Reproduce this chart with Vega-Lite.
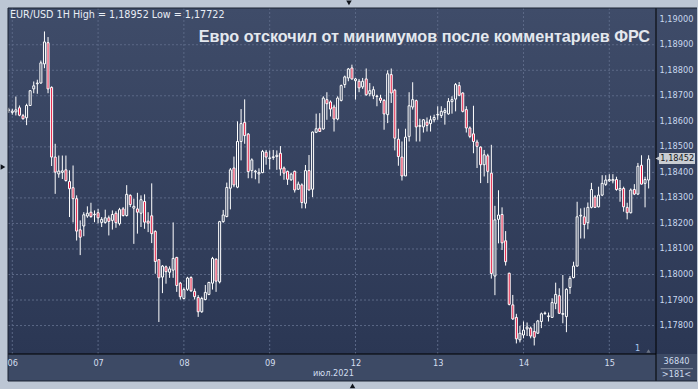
{
"$schema": "https://vega.github.io/schema/vega-lite/v6.json",
"width": 648, "height": 346,
"autosize": {"type": "none"},
"padding": {"left": 8, "top": 8, "right": 42, "bottom": 35},
"background": "#bcc6d4",
"config": {"view": {"stroke": null}, "font": "DejaVu Sans", "scale": {"continuousPadding": 0}, "axis": {"zindex": 1, "grid": false, "title": null, "labelOverlap": false}},
"datasets": {
"candles": [
{"t":0,"o":1.18643,"h":1.18653,"l":1.18633,"c":1.18645},
{"t":1,"o":1.18635,"h":1.18649,"l":1.18626,"c":1.18640},
{"t":2,"o":1.18637,"h":1.18697,"l":1.18623,"c":1.18645},
{"t":3,"o":1.18653,"h":1.18662,"l":1.18620,"c":1.18624},
{"t":4,"o":1.18622,"h":1.18629,"l":1.18607,"c":1.18610},
{"t":5,"o":1.18614,"h":1.18669,"l":1.18585,"c":1.18662},
{"t":6,"o":1.18662,"h":1.18721,"l":1.18661,"c":1.18720},
{"t":7,"o":1.18727,"h":1.18756,"l":1.18710,"c":1.18739},
{"t":8,"o":1.18747,"h":1.18763,"l":1.18708,"c":1.18750},
{"t":9,"o":1.18750,"h":1.18838,"l":1.18747,"c":1.18829},
{"t":10,"o":1.18825,"h":1.18952,"l":1.18808,"c":1.18911},
{"t":11,"o":1.18908,"h":1.18930,"l":1.18710,"c":1.18727},
{"t":12,"o":1.18733,"h":1.18737,"l":1.18425,"c":1.18460},
{"t":13,"o":1.18460,"h":1.18512,"l":1.18316,"c":1.18401},
{"t":14,"o":1.18394,"h":1.18466,"l":1.18379,"c":1.18405},
{"t":15,"o":1.18400,"h":1.18466,"l":1.18374,"c":1.18406},
{"t":16,"o":1.18410,"h":1.18466,"l":1.18364,"c":1.18368},
{"t":17,"o":1.18364,"h":1.18408,"l":1.18225,"c":1.18336},
{"t":18,"o":1.18340,"h":1.18427,"l":1.18204,"c":1.18297},
{"t":19,"o":1.18297,"h":1.18310,"l":1.18133,"c":1.18170},
{"t":20,"o":1.18175,"h":1.18212,"l":1.18076,"c":1.18146},
{"t":21,"o":1.18190,"h":1.18244,"l":1.18150,"c":1.18234},
{"t":22,"o":1.18229,"h":1.18267,"l":1.18222,"c":1.18240},
{"t":23,"o":1.18244,"h":1.18281,"l":1.18222,"c":1.18227},
{"t":24,"o":1.18234,"h":1.18251,"l":1.18205,"c":1.18236},
{"t":25,"o":1.18242,"h":1.18257,"l":1.18200,"c":1.18222},
{"t":26,"o":1.18204,"h":1.18225,"l":1.18186,"c":1.18216},
{"t":27,"o":1.18204,"h":1.18254,"l":1.18199,"c":1.18222},
{"t":28,"o":1.18222,"h":1.18231,"l":1.18153,"c":1.18208},
{"t":29,"o":1.18212,"h":1.18251,"l":1.18176,"c":1.18235},
{"t":30,"o":1.18240,"h":1.18248,"l":1.18183,"c":1.18203},
{"t":31,"o":1.18199,"h":1.18261,"l":1.18192,"c":1.18254},
{"t":32,"o":1.18257,"h":1.18264,"l":1.18227,"c":1.18231},
{"t":33,"o":1.18231,"h":1.18350,"l":1.18227,"c":1.18314},
{"t":34,"o":1.18310,"h":1.18314,"l":1.18264,"c":1.18274},
{"t":35,"o":1.18260,"h":1.18297,"l":1.18120,"c":1.18267},
{"t":36,"o":1.18257,"h":1.18320,"l":1.18160,"c":1.18244},
{"t":37,"o":1.18240,"h":1.18310,"l":1.18186,"c":1.18293},
{"t":38,"o":1.18286,"h":1.18314,"l":1.18179,"c":1.18205},
{"t":39,"o":1.18209,"h":1.18244,"l":1.18166,"c":1.18201},
{"t":40,"o":1.18230,"h":1.18357,"l":1.18123,"c":1.18160},
{"t":41,"o":1.18169,"h":1.18173,"l":1.18003,"c":1.18051},
{"t":42,"o":1.18058,"h":1.18060,"l":1.17814,"c":1.17987},
{"t":43,"o":1.17990,"h":1.18037,"l":1.17927,"c":1.18033},
{"t":44,"o":1.18030,"h":1.18035,"l":1.17964,"c":1.18011},
{"t":45,"o":1.18009,"h":1.18032,"l":1.17987,"c":1.18022},
{"t":46,"o":1.18017,"h":1.18204,"l":1.17987,"c":1.18063},
{"t":47,"o":1.18067,"h":1.18069,"l":1.17932,"c":1.17957},
{"t":48,"o":1.17966,"h":1.17971,"l":1.17902,"c":1.17913},
{"t":49,"o":1.17906,"h":1.17949,"l":1.17902,"c":1.17941},
{"t":50,"o":1.17942,"h":1.17991,"l":1.17936,"c":1.17986},
{"t":51,"o":1.17988,"h":1.17993,"l":1.17932,"c":1.17936},
{"t":52,"o":1.17934,"h":1.17945,"l":1.17902,"c":1.17913},
{"t":53,"o":1.17910,"h":1.17919,"l":1.17834,"c":1.17854},
{"t":54,"o":1.17854,"h":1.17913,"l":1.17850,"c":1.17906},
{"t":55,"o":1.17902,"h":1.17959,"l":1.17899,"c":1.17930},
{"t":56,"o":1.17922,"h":1.17971,"l":1.17919,"c":1.17969},
{"t":57,"o":1.17966,"h":1.18069,"l":1.17941,"c":1.18063},
{"t":58,"o":1.18060,"h":1.18063,"l":1.17932,"c":1.17974},
{"t":59,"o":1.17971,"h":1.18210,"l":1.17965,"c":1.18207},
{"t":60,"o":1.18207,"h":1.18253,"l":1.18203,"c":1.18233},
{"t":61,"o":1.18227,"h":1.18360,"l":1.18224,"c":1.18341},
{"t":62,"o":1.18338,"h":1.18417,"l":1.18255,"c":1.18410},
{"t":63,"o":1.18417,"h":1.18462,"l":1.18342,"c":1.18351},
{"t":64,"o":1.18342,"h":1.18600,"l":1.18338,"c":1.18521},
{"t":65,"o":1.18521,"h":1.18648,"l":1.18447,"c":1.18591},
{"t":66,"o":1.18596,"h":1.18686,"l":1.18512,"c":1.18544},
{"t":67,"o":1.18550,"h":1.18554,"l":1.18377,"c":1.18403},
{"t":68,"o":1.18407,"h":1.18455,"l":1.18377,"c":1.18449},
{"t":69,"o":1.18402,"h":1.18410,"l":1.18373,"c":1.18405},
{"t":70,"o":1.18394,"h":1.18416,"l":1.18357,"c":1.18399},
{"t":71,"o":1.18399,"h":1.18488,"l":1.18397,"c":1.18482},
{"t":72,"o":1.18479,"h":1.18488,"l":1.18430,"c":1.18460},
{"t":73,"o":1.18454,"h":1.18486,"l":1.18412,"c":1.18457},
{"t":74,"o":1.18458,"h":1.18488,"l":1.18449,"c":1.18461},
{"t":75,"o":1.18462,"h":1.18486,"l":1.18410,"c":1.18467},
{"t":76,"o":1.18475,"h":1.18503,"l":1.18387,"c":1.18413},
{"t":77,"o":1.18417,"h":1.18423,"l":1.18371,"c":1.18397},
{"t":78,"o":1.18404,"h":1.18407,"l":1.18351,"c":1.18373},
{"t":79,"o":1.18371,"h":1.18399,"l":1.18367,"c":1.18393},
{"t":80,"o":1.18404,"h":1.18407,"l":1.18321,"c":1.18331},
{"t":81,"o":1.18334,"h":1.18364,"l":1.18331,"c":1.18354},
{"t":82,"o":1.18351,"h":1.18357,"l":1.18259,"c":1.18282},
{"t":83,"o":1.18279,"h":1.18429,"l":1.18259,"c":1.18407},
{"t":84,"o":1.18407,"h":1.18468,"l":1.18329,"c":1.18331},
{"t":85,"o":1.18334,"h":1.18560,"l":1.18303,"c":1.18558},
{"t":86,"o":1.18557,"h":1.18630,"l":1.18554,"c":1.18571},
{"t":87,"o":1.18573,"h":1.18632,"l":1.18560,"c":1.18560},
{"t":88,"o":1.18570,"h":1.18698,"l":1.18567,"c":1.18691},
{"t":89,"o":1.18685,"h":1.18714,"l":1.18606,"c":1.18669},
{"t":90,"o":1.18676,"h":1.18682,"l":1.18619,"c":1.18648},
{"t":91,"o":1.18656,"h":1.18665,"l":1.18560,"c":1.18609},
{"t":92,"o":1.18609,"h":1.18698,"l":1.18604,"c":1.18691},
{"t":93,"o":1.18682,"h":1.18744,"l":1.18678,"c":1.18740},
{"t":94,"o":1.18744,"h":1.18779,"l":1.18731,"c":1.18774},
{"t":95,"o":1.18770,"h":1.18809,"l":1.18757,"c":1.18805},
{"t":96,"o":1.18809,"h":1.18822,"l":1.18763,"c":1.18766},
{"t":97,"o":1.18759,"h":1.18770,"l":1.18685,"c":1.18766},
{"t":98,"o":1.18757,"h":1.18766,"l":1.18714,"c":1.18731},
{"t":99,"o":1.18735,"h":1.18770,"l":1.18727,"c":1.18757},
{"t":100,"o":1.18766,"h":1.18807,"l":1.18700,"c":1.18704},
{"t":101,"o":1.18708,"h":1.18750,"l":1.18698,"c":1.18720},
{"t":102,"o":1.18700,"h":1.18737,"l":1.18687,"c":1.18724},
{"t":103,"o":1.18697,"h":1.18704,"l":1.18659,"c":1.18699},
{"t":104,"o":1.18691,"h":1.18704,"l":1.18672,"c":1.18682},
{"t":105,"o":1.18682,"h":1.18687,"l":1.18567,"c":1.18629},
{"t":106,"o":1.18626,"h":1.18800,"l":1.18593,"c":1.18786},
{"t":107,"o":1.18783,"h":1.18807,"l":1.18672,"c":1.18711},
{"t":108,"o":1.18722,"h":1.18727,"l":1.18486,"c":1.18534},
{"t":109,"o":1.18530,"h":1.18571,"l":1.18426,"c":1.18462},
{"t":110,"o":1.18460,"h":1.18521,"l":1.18368,"c":1.18386},
{"t":111,"o":1.18386,"h":1.18571,"l":1.18386,"c":1.18538},
{"t":112,"o":1.18541,"h":1.18714,"l":1.18521,"c":1.18661},
{"t":113,"o":1.18656,"h":1.18753,"l":1.18646,"c":1.18685},
{"t":114,"o":1.18681,"h":1.18685,"l":1.18521,"c":1.18578},
{"t":115,"o":1.18580,"h":1.18610,"l":1.18521,"c":1.18584},
{"t":116,"o":1.18578,"h":1.18609,"l":1.18556,"c":1.18606},
{"t":117,"o":1.18597,"h":1.18615,"l":1.18560,"c":1.18584},
{"t":118,"o":1.18591,"h":1.18622,"l":1.18560,"c":1.18606},
{"t":119,"o":1.18606,"h":1.18626,"l":1.18596,"c":1.18615},
{"t":120,"o":1.18625,"h":1.18659,"l":1.18606,"c":1.18627},
{"t":121,"o":1.18623,"h":1.18659,"l":1.18613,"c":1.18639},
{"t":122,"o":1.18635,"h":1.18652,"l":1.18587,"c":1.18642},
{"t":123,"o":1.18629,"h":1.18691,"l":1.18626,"c":1.18678},
{"t":124,"o":1.18677,"h":1.18698,"l":1.18630,"c":1.18685},
{"t":125,"o":1.18687,"h":1.18750,"l":1.18639,"c":1.18744},
{"t":126,"o":1.18740,"h":1.18754,"l":1.18698,"c":1.18702},
{"t":127,"o":1.18711,"h":1.18714,"l":1.18635,"c":1.18639},
{"t":128,"o":1.18646,"h":1.18659,"l":1.18556,"c":1.18574},
{"t":129,"o":1.18574,"h":1.18580,"l":1.18534,"c":1.18541},
{"t":130,"o":1.18551,"h":1.18661,"l":1.18475,"c":1.18521},
{"t":131,"o":1.18519,"h":1.18528,"l":1.18417,"c":1.18502},
{"t":132,"o":1.18499,"h":1.18502,"l":1.18358,"c":1.18430},
{"t":133,"o":1.18430,"h":1.18488,"l":1.18384,"c":1.18469},
{"t":134,"o":1.18465,"h":1.18473,"l":1.18358,"c":1.18404},
{"t":135,"o":1.18397,"h":1.18508,"l":1.17984,"c":1.18004},
{"t":136,"o":1.17994,"h":1.18269,"l":1.17919,"c":1.18214},
{"t":137,"o":1.18216,"h":1.18330,"l":1.18122,"c":1.18233},
{"t":138,"o":1.18235,"h":1.18263,"l":1.18096,"c":1.18124},
{"t":139,"o":1.18132,"h":1.18170,"l":1.18035,"c":1.18050},
{"t":140,"o":1.18005,"h":1.18007,"l":1.17879,"c":1.17883},
{"t":141,"o":1.17881,"h":1.17920,"l":1.17822,"c":1.17826},
{"t":142,"o":1.17832,"h":1.17846,"l":1.17730,"c":1.17748},
{"t":143,"o":1.17744,"h":1.17799,"l":1.17734,"c":1.17770},
{"t":144,"o":1.17763,"h":1.17816,"l":1.17750,"c":1.17782},
{"t":145,"o":1.17787,"h":1.17812,"l":1.17759,"c":1.17794},
{"t":146,"o":1.17790,"h":1.17796,"l":1.17750,"c":1.17759},
{"t":147,"o":1.17777,"h":1.17809,"l":1.17722,"c":1.17754},
{"t":148,"o":1.17770,"h":1.17822,"l":1.17767,"c":1.17818},
{"t":149,"o":1.17816,"h":1.17851,"l":1.17790,"c":1.17846},
{"t":150,"o":1.17847,"h":1.17855,"l":1.17842,"c":1.17849},
{"t":151,"o":1.17835,"h":1.17851,"l":1.17816,"c":1.17838},
{"t":152,"o":1.17832,"h":1.17907,"l":1.17831,"c":1.17890},
{"t":153,"o":1.17887,"h":1.17968,"l":1.17864,"c":1.17922},
{"t":154,"o":1.17917,"h":1.17946,"l":1.17846,"c":1.17848},
{"t":155,"o":1.17844,"h":1.17998,"l":1.17809,"c":1.17847},
{"t":156,"o":1.17835,"h":1.17946,"l":1.17774,"c":1.17942},
{"t":157,"o":1.17949,"h":1.17994,"l":1.17924,"c":1.17985},
{"t":158,"o":1.17988,"h":1.18050,"l":1.17985,"c":1.18033},
{"t":159,"o":1.18033,"h":1.18285,"l":1.18031,"c":1.18226},
{"t":160,"o":1.18229,"h":1.18259,"l":1.18141,"c":1.18232},
{"t":161,"o":1.18226,"h":1.18262,"l":1.18141,"c":1.18196},
{"t":162,"o":1.18203,"h":1.18282,"l":1.18177,"c":1.18263},
{"t":163,"o":1.18263,"h":1.18359,"l":1.18259,"c":1.18333},
{"t":164,"o":1.18304,"h":1.18311,"l":1.18262,"c":1.18263},
{"t":165,"o":1.18265,"h":1.18344,"l":1.18263,"c":1.18311},
{"t":166,"o":1.18311,"h":1.18389,"l":1.18307,"c":1.18357},
{"t":167,"o":1.18353,"h":1.18389,"l":1.18347,"c":1.18370},
{"t":168,"o":1.18367,"h":1.18393,"l":1.18363,"c":1.18372},
{"t":169,"o":1.18367,"h":1.18393,"l":1.18357,"c":1.18372},
{"t":170,"o":1.18372,"h":1.18383,"l":1.18328,"c":1.18333},
{"t":171,"o":1.18330,"h":1.18370,"l":1.18285,"c":1.18337},
{"t":172,"o":1.18337,"h":1.18344,"l":1.18246,"c":1.18265},
{"t":173,"o":1.18263,"h":1.18281,"l":1.18216,"c":1.18242},
{"t":174,"o":1.18242,"h":1.18337,"l":1.18239,"c":1.18331},
{"t":175,"o":1.18333,"h":1.18354,"l":1.18311,"c":1.18315},
{"t":176,"o":1.18315,"h":1.18437,"l":1.18311,"c":1.18424},
{"t":177,"o":1.18428,"h":1.18467,"l":1.18353,"c":1.18354},
{"t":178,"o":1.18357,"h":1.18383,"l":1.18263,"c":1.18372},
{"t":179,"o":1.18370,"h":1.18467,"l":1.18337,"c":1.18452}
],
"hgrid": [{"v":1.178},{"v":1.179},{"v":1.180},{"v":1.181},{"v":1.182},{"v":1.183},{"v":1.184},{"v":1.185},{"v":1.186},{"v":1.187},{"v":1.188},{"v":1.189}],
"vgrid": [{"d":1},{"d":25},{"d":49},{"d":73},{"d":97},{"d":120},{"d":144},{"d":168}],
"one": [{}]
},
"layer": [
{"data": {"name": "one"},
 "mark": {"type": "rect", "fill": {"gradient": "linear", "x1": 0, "y1": 0, "x2": 0, "y2": 1, "stops": [{"offset": 0, "color": "#3f4c69"}, {"offset": 1, "color": "#2b3754"}]}},
 "encoding": {
  "x": {"datum": -0.2, "type": "quantitative", "scale": {"domain": [-0.2, 181.06], "nice": false, "zero": false}},
  "x2": {"datum": 192.53},
  "y": {"datum": 1.190439, "type": "quantitative", "scale": {"domain": [1.176886, 1.190439], "nice": false, "zero": false}},
  "y2": {"datum": 1.176886}}},
{"data": {"name": "one"},
 "mark": {"type": "rect", "fill": "#3d4a65"},
 "encoding": {
  "x": {"datum": -0.2, "type": "quantitative", "scale": {"domain": [-0.2, 181.06], "nice": false, "zero": false}},
  "x2": {"datum": 192.53},
  "y": {"datum": 1.176886, "type": "quantitative", "scale": {"domain": [1.176886, 1.190439], "nice": false, "zero": false}},
  "y2": {"datum": 1.175829}}},
{"data": {"name": "hgrid"},
 "mark": {"type": "rule", "color": "#5b6886", "strokeWidth": 1, "strokeDash": [2, 2]},
 "encoding": {
  "x": {"datum": -0.2, "type": "quantitative", "scale": {"domain": [-0.2, 181.06], "nice": false, "zero": false}},
  "x2": {"datum": 181.06},
  "y": {"field": "v", "type": "quantitative", "scale": {"domain": [1.176886, 1.190439], "nice": false, "zero": false}}}},
{"data": {"name": "vgrid"},
 "mark": {"type": "rule", "color": "#5b6886", "strokeWidth": 1, "strokeDash": [2, 2]},
 "encoding": {
  "x": {"field": "d", "type": "quantitative", "scale": {"domain": [-0.2, 181.06], "nice": false, "zero": false}},
  "y": {"datum": 1.190439, "type": "quantitative", "scale": {"domain": [1.176886, 1.190439], "nice": false, "zero": false}},
  "y2": {"datum": 1.176886}}},
{"data": {"name": "candles"},
 "mark": {"type": "rule", "color": "#ffffff", "strokeWidth": 1},
 "encoding": {
  "x": {"field": "t", "type": "quantitative", "scale": {"domain": [-0.2, 181.06], "nice": false, "zero": false},
        "axis": {"orient": "bottom", "values": [1, 25, 49, 73, 97, 120, 144, 168], "labelExpr": "datum.value==1?'06':datum.value==25?'07':datum.value==49?'08':datum.value==73?'09':datum.value==97?'12':datum.value==120?'13':datum.value==144?'14':'15'", "title": null, "grid": false, "ticks": false, "domain": false, "labelColor": "#d4deee", "labelFont": "DejaVu Sans", "labelFontSize": 8.2, "labelPadding": 5, "labelFlush": false, "labelOverlap": false, "zindex": 1}},
  "y": {"field": "l", "type": "quantitative", "scale": {"domain": [1.176886, 1.190439], "nice": false, "zero": false},
        "axis": {"orient": "right", "values": [1.178, 1.179, 1.18, 1.181, 1.182, 1.183, 1.184, 1.185, 1.186, 1.187, 1.188, 1.189, 1.19], "tickCount": 14, "labelBound": true, "labelExpr": "replace(format(datum.value, '.5f'), '.', ',')", "title": null, "grid": false, "ticks": false, "domain": false, "labelColor": "#c9d8ee", "labelFont": "DejaVu Sans", "labelFontSize": 8.2, "labelPadding": 3, "labelBaseline": "middle", "labelOverlap": false, "labelSeparation": 0, "zindex": 1}},
  "y2": {"field": "h"}}},
{"data": {"name": "candles"},
 "mark": {"type": "bar", "width": 2, "stroke": "#ffffff", "strokeWidth": 1},
 "encoding": {
  "x": {"field": "t", "type": "quantitative", "scale": {"domain": [-0.2, 181.06], "nice": false, "zero": false}},
  "y": {"field": "o", "type": "quantitative", "scale": {"domain": [1.176886, 1.190439], "nice": false, "zero": false}},
  "y2": {"field": "c"},
  "fill": {"condition": {"test": "datum.c < datum.o", "value": "#e3173e"}, "value": "#313d59"}}},
{"data": {"name": "one"},
 "mark": {"type": "rule", "color": "#000000", "strokeWidth": 1},
 "encoding": {
  "x": {"datum": 181.06, "type": "quantitative", "scale": {"domain": [-0.2, 181.06], "nice": false, "zero": false}},
  "y": {"datum": 1.190439, "type": "quantitative", "scale": {"domain": [1.176886, 1.190439], "nice": false, "zero": false}},
  "y2": {"datum": 1.175829}}},
{"data": {"name": "one"},
 "mark": {"type": "rule", "color": "#000000", "strokeWidth": 1},
 "encoding": {
  "x": {"datum": -0.2, "type": "quantitative", "scale": {"domain": [-0.2, 181.06], "nice": false, "zero": false}},
  "x2": {"datum": 181.06},
  "y": {"datum": 1.176886, "type": "quantitative", "scale": {"domain": [1.176886, 1.190439], "nice": false, "zero": false}}}},
{"data": {"name": "one"},
 "mark": {"type": "rule", "color": "#1b2232", "strokeWidth": 1},
 "encoding": {
  "x": {"datum": -0.2, "type": "quantitative", "scale": {"domain": [-0.2, 181.06], "nice": false, "zero": false}},
  "y": {"datum": 1.190439, "type": "quantitative", "scale": {"domain": [1.176886, 1.190439], "nice": false, "zero": false}},
  "y2": {"datum": 1.175829}}},
{"data": {"name": "one"},
 "mark": {"type": "rule", "color": "#1b2232", "strokeWidth": 1},
 "encoding": {
  "x": {"datum": -0.2, "type": "quantitative", "scale": {"domain": [-0.2, 181.06], "nice": false, "zero": false}},
  "x2": {"datum": 192.53},
  "y": {"datum": 1.190439, "type": "quantitative", "scale": {"domain": [1.176886, 1.190439], "nice": false, "zero": false}}}},
{"data": {"name": "one"},
 "mark": {"type": "rule", "color": "#1b2232", "strokeWidth": 1},
 "encoding": {
  "x": {"datum": -0.2, "type": "quantitative", "scale": {"domain": [-0.2, 181.06], "nice": false, "zero": false}},
  "x2": {"datum": 192.53},
  "y": {"datum": 1.175829, "type": "quantitative", "scale": {"domain": [1.176886, 1.190439], "nice": false, "zero": false}}}},
{"data": {"name": "one"},
 "mark": {"type": "text", "align": "left", "baseline": "alphabetic", "fontSize": 9.6, "font": "DejaVu Sans", "color": "#e9edf5"},
 "encoding": {
  "x": {"datum": 0.36, "type": "quantitative", "scale": {"domain": [-0.2, 181.06], "nice": false, "zero": false}},
  "y": {"datum": 1.190047, "type": "quantitative", "scale": {"domain": [1.176886, 1.190439], "nice": false, "zero": false}},
  "text": {"value": "EUR/USD 1H High = 1,18952 Low = 1,17722"}}},
{"data": {"name": "one"},
 "mark": {"type": "text", "align": "right", "baseline": "alphabetic", "fontSize": 16.2, "fontWeight": "bold", "font": "Liberation Sans", "color": "#e4e8ee"},
 "encoding": {
  "x": {"datum": 179.4, "type": "quantitative", "scale": {"domain": [-0.2, 181.06], "nice": false, "zero": false}},
  "y": {"datum": 1.189107, "type": "quantitative", "scale": {"domain": [1.176886, 1.190439], "nice": false, "zero": false}},
  "text": {"value": "Евро отскочил от минимумов после комментариев ФРС"}}},
{"data": {"name": "one"},
 "mark": {"type": "rect", "fill": "#c9cdd2"},
 "encoding": {
  "x": {"datum": 181.9, "type": "quantitative", "scale": {"domain": [-0.2, 181.06], "nice": false, "zero": false}},
  "x2": {"datum": 191.97},
  "y": {"datum": 1.184759, "type": "quantitative", "scale": {"domain": [1.176886, 1.190439], "nice": false, "zero": false}},
  "y2": {"datum": 1.184328}}},
{"data": {"name": "one"},
 "mark": {"type": "point", "shape": "triangle-left", "filled": true, "size": 22, "color": "#c9cdd2", "opacity": 1},
 "encoding": {
  "x": {"datum": 181.5, "type": "quantitative", "scale": {"domain": [-0.2, 181.06], "nice": false, "zero": false}},
  "y": {"datum": 1.184543, "type": "quantitative", "scale": {"domain": [1.176886, 1.190439], "nice": false, "zero": false}}}},
{"data": {"name": "one"},
 "mark": {"type": "text", "align": "center", "baseline": "middle", "fontSize": 8.2, "font": "DejaVu Sans", "color": "#15181e"},
 "encoding": {
  "x": {"datum": 187.0, "type": "quantitative", "scale": {"domain": [-0.2, 181.06], "nice": false, "zero": false}},
  "y": {"datum": 1.18452, "type": "quantitative", "scale": {"domain": [1.176886, 1.190439], "nice": false, "zero": false}},
  "text": {"value": "1,18452"}}},
{"data": {"name": "one"},
 "mark": {"type": "text", "align": "center", "baseline": "middle", "fontSize": 8.2, "font": "DejaVu Sans", "color": "#d0dcee"},
 "encoding": {
  "x": {"datum": 90.83, "type": "quantitative", "scale": {"domain": [-0.2, 181.06], "nice": false, "zero": false}},
  "y": {"datum": 1.176103, "type": "quantitative", "scale": {"domain": [1.176886, 1.190439], "nice": false, "zero": false}},
  "text": {"value": "июл.2021"}}},
{"data": {"name": "one"},
 "mark": {"type": "text", "align": "center", "baseline": "middle", "fontSize": 8.2, "font": "DejaVu Sans", "color": "#d0dcee"},
 "encoding": {
  "x": {"datum": 186.8, "type": "quantitative", "scale": {"domain": [-0.2, 181.06], "nice": false, "zero": false}},
  "y": {"datum": 1.176573, "type": "quantitative", "scale": {"domain": [1.176886, 1.190439], "nice": false, "zero": false}},
  "text": {"value": "36840"}}},
{"data": {"name": "one"},
 "mark": {"type": "text", "align": "center", "baseline": "middle", "fontSize": 8.2, "font": "DejaVu Sans", "color": "#d0dcee"},
 "encoding": {
  "x": {"datum": 186.8, "type": "quantitative", "scale": {"domain": [-0.2, 181.06], "nice": false, "zero": false}},
  "y": {"datum": 1.176063, "type": "quantitative", "scale": {"domain": [1.176886, 1.190439], "nice": false, "zero": false}},
  "text": {"value": ">181<"}}},
{"data": {"name": "one"},
 "mark": {"type": "rule", "color": "#8b95a8", "strokeWidth": 1},
 "encoding": {
  "x": {"datum": 182.37, "type": "quantitative", "scale": {"domain": [-0.2, 181.06], "nice": false, "zero": false}},
  "x2": {"datum": 191.41},
  "y": {"datum": 1.17631, "type": "quantitative", "scale": {"domain": [1.176886, 1.190439], "nice": false, "zero": false}}}},
{"data": {"name": "one"},
 "mark": {"type": "text", "align": "center", "baseline": "middle", "fontSize": 8.2, "font": "DejaVu Sans", "color": "#a9c8f0"},
 "encoding": {
  "x": {"datum": 175.94, "type": "quantitative", "scale": {"domain": [-0.2, 181.06], "nice": false, "zero": false}},
  "y": {"datum": 1.177082, "type": "quantitative", "scale": {"domain": [1.176886, 1.190439], "nice": false, "zero": false}},
  "text": {"value": "1"}}},
{"data": {"name": "one"},
 "mark": {"type": "point", "shape": "triangle-up", "filled": true, "size": 18, "color": "#6d7585", "opacity": 1},
 "encoding": {
  "x": {"datum": 178.96, "type": "quantitative", "scale": {"domain": [-0.2, 181.06], "nice": false, "zero": false}},
  "y": {"datum": 1.177003, "type": "quantitative", "scale": {"domain": [1.176886, 1.190439], "nice": false, "zero": false}}}},
{"data": {"name": "one"},
 "mark": {"type": "point", "shape": "triangle-right", "filled": true, "size": 30, "color": "#10141c", "opacity": 1},
 "encoding": {
  "x": {"datum": -1.6, "type": "quantitative", "scale": {"domain": [-0.2, 181.06], "nice": false, "zero": false}},
  "y": {"datum": 1.184211, "type": "quantitative", "scale": {"domain": [1.176886, 1.190439], "nice": false, "zero": false}}}},
{"data": {"name": "one"},
 "mark": {"type": "point", "shape": "triangle-down", "filled": true, "size": 30, "color": "#10141c", "opacity": 1},
 "encoding": {
  "x": {"datum": 95.18, "type": "quantitative", "scale": {"domain": [-0.2, 181.06], "nice": false, "zero": false}},
  "y": {"datum": 1.190635, "type": "quantitative", "scale": {"domain": [1.176886, 1.190439], "nice": false, "zero": false}}}},
{"data": {"name": "one"},
 "mark": {"type": "point", "shape": "triangle-up", "filled": true, "size": 30, "color": "#10141c", "opacity": 1},
 "encoding": {
  "x": {"datum": 96.17, "type": "quantitative", "scale": {"domain": [-0.2, 181.06], "nice": false, "zero": false}},
  "y": {"datum": 1.175633, "type": "quantitative", "scale": {"domain": [1.176886, 1.190439], "nice": false, "zero": false}}}}
]
}
